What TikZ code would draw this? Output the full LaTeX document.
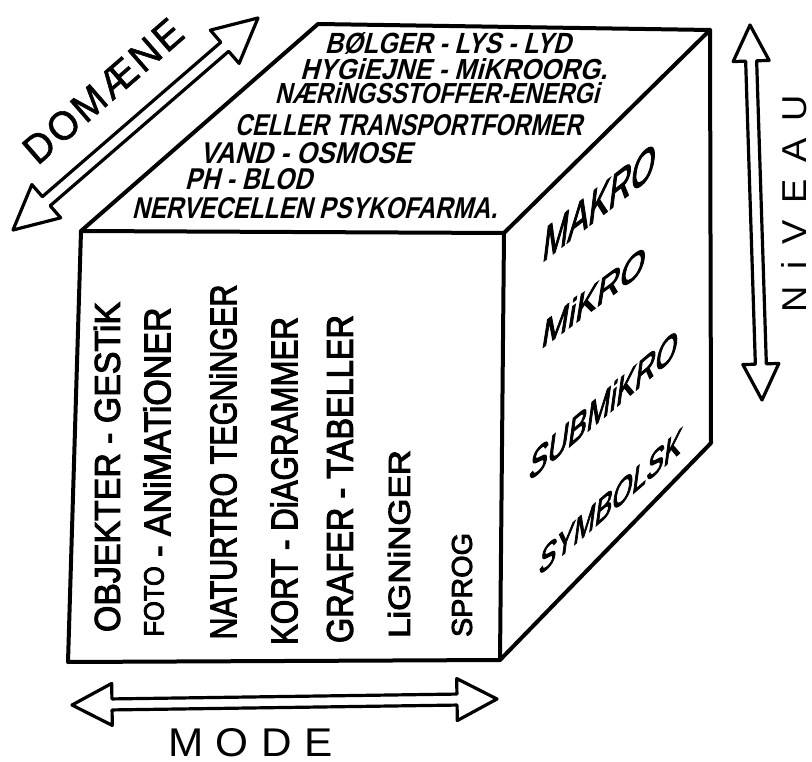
\documentclass[tikz,border=0pt]{standalone}
\usepackage{fontspec}
\setmainfont{Liberation Sans}
\newfontfamily\topfont[FakeSlant=0.3]{Liberation Sans}
\newfontfamily\sidefont[FakeSlant=0.2,FakeBold=3]{Liberation Sans}
\newfontfamily\frontfont[FakeBold=3]{Liberation Sans}
\newfontfamily\axisfont[FakeBold=1.5]{Liberation Sans}
\usetikzlibrary{calc}
\newcommand\fitto[3]{\resizebox{#1pt}{#2pt}{#3}}
\newcommand\hollowarrow[5]{%
  \coordinate (#1h) at ($(#1)!#3!(#2)$);
  \coordinate (#2h) at ($(#2)!#3!(#1)$);
  \draw[arrowline] (#1)
    -- ($(#1h)!#4!90:(#2)$)
    -- ($(#1h)!#5!90:(#2)$)
    -- ($(#2h)!#5!-90:(#1)$)
    -- ($(#2h)!#4!-90:(#1)$)
    -- (#2)
    -- ($(#2h)!#4!90:(#1)$)
    -- ($(#2h)!#5!90:(#1)$)
    -- ($(#1h)!#5!-90:(#2)$)
    -- ($(#1h)!#4!-90:(#2)$)
    -- cycle;}
\tikzset{
  cubeedge/.style={line width=4pt, line join=round, line cap=round},
  arrowline/.style={line width=3.2pt, line join=round},
  txt/.style={inner sep=0pt, outer sep=0pt, anchor=center},
}
\begin{document}
\begin{tikzpicture}[x=1pt,y=-1pt]
\fill[white] (0,0) rectangle (812,762);
\useasboundingbox (0,0) rectangle (812,762);

% cube
\coordinate (ftl) at (81,231);
\coordinate (ftr) at (504,233);
\coordinate (fbr) at (500,660);
\coordinate (fbl) at (68,662);
\coordinate (tbl) at (318,24);
\coordinate (tbr) at (710,30);
\coordinate (rbb) at (711,443);
\draw[cubeedge] (ftl) -- (ftr) -- (fbr) -- (fbl) -- cycle;
\draw[cubeedge] (ftl) -- (tbl) -- (tbr) -- (ftr);
\draw[cubeedge] (tbr) -- (rbb) -- (fbr);

% axis arrows
\coordinate (domA) at (13,230);
\coordinate (domB) at (258,18);
\hollowarrow{domA}{domB}{44pt}{22pt}{6pt}
\coordinate (nivA) at (750,25);
\coordinate (nivB) at (762,400);
\hollowarrow{nivA}{nivB}{36pt}{18pt}{5.5pt}
\coordinate (modA) at (72,705);
\coordinate (modB) at (497,699);
\hollowarrow{modA}{modB}{40pt}{21pt}{5.5pt}

% axis labels
\node[txt, rotate=41] (domaene) at (103,91)
  {\fitto{197}{28}{\axisfont D\kern.7pt O\kern.7pt M\kern.7pt Æ\kern.7pt N\kern.7pt E}};
\node[txt, rotate=90] (niveau) at (794,203.5)
  {\fitto{217}{25}{N\kern4.6pt i\kern4.6pt V\kern4.6pt E\kern4.6pt A\kern4.6pt U}};
\node[txt] (mode) at (250.5,743)
  {\fitto{165}{28}{M\kern3pt O\kern3pt D\kern3pt E}};

% top face
\node[txt] (t1) at (448,43.5) {\fitto{246}{21}{\topfont\bfseries BØLGER - LYS - LYD}};
\node[txt] (t2) at (453.5,69) {\fitto{307}{21}{\topfont\bfseries HYGiEJNE - MiKROORG.}};
\node[txt] (t3) at (437,93) {\fitto{324}{21}{\topfont\bfseries NÆRiNGSSTOFFER-ENERGi}};
\node[txt] (t4) at (408.5,125) {\fitto{347}{21}{\topfont\bfseries CELLER TRANSPORTFORMER}};
\node[txt] (t5) at (306,153) {\fitto{212}{21}{\topfont\bfseries VAND - OSMOSE}};
\node[txt] (t6) at (248.5,179) {\fitto{127}{21}{\topfont\bfseries PH - BLOD}};
\node[txt] (t7) at (314.5,208.5) {\fitto{365}{21}{\topfont\bfseries NERVECELLEN PSYKOFARMA.}};

% front face
\node[txt, rotate=90] (m1) at (107,467) {\fitto{330}{26}{\frontfont OBJEKTER - GESTiK}};
\node[txt, rotate=90] (m2) at (157,472) {\fitto{329}{27}{\frontfont\raisebox{1.8pt}{\scalebox{.75}{FOTO}} - ANiMATiONER}};
\node[txt, rotate=90] (m3) at (223,462) {\fitto{355}{27}{\frontfont NATURTRO TEGNiNGER}};
\node[txt, rotate=90] (m4) at (284,481) {\fitto{328}{27}{\frontfont KORT - DiAGRAMMER}};
\node[txt, rotate=90] (m5) at (340,479) {\fitto{328}{26}{\frontfont GRAFER - TABELLER}};
\node[txt, rotate=90] (m6) at (399,544) {\fitto{188}{22}{\frontfont LiGNiNGER}};
\node[txt, rotate=90] (m7) at (462,585) {\fitto{104}{20}{\frontfont SPROG}};

% right face
\begin{scope}[shift={(597.5,203.5)}, yslant=0.78]
  \node[txt, transform shape] (makro) at (0,0) {\fitto{112}{32}{\sidefont MAKRO}};
\end{scope}
\begin{scope}[shift={(592,298)}, yslant=0.75]
  \node[txt, transform shape] (mikro) at (0,0) {\fitto{103}{26}{\sidefont MiKRO}};
\end{scope}
\begin{scope}[shift={(602,406)}, yslant=0.85]
  \node[txt, transform shape] (submikro) at (0,0) {\fitto{148}{27}{\sidefont SUBMiKRO}};
\end{scope}
\begin{scope}[shift={(609,503)}, yslant=0.87]
  \node[txt, transform shape] (symbolsk) at (0,0) {\fitto{142}{24}{\sidefont SYMBOLSK}};
\end{scope}
\end{tikzpicture}
\end{document}
